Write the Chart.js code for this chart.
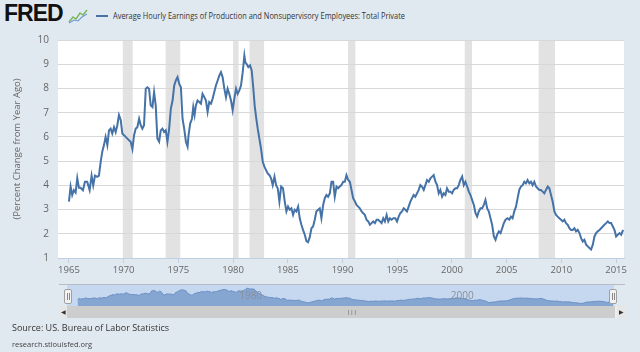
<!DOCTYPE html>
<html>
<head>
<meta charset="utf-8">
<script src="https://cdn.jsdelivr.net/npm/chart.js@4.4.1/dist/chart.umd.min.js"></script>
<style>
  html, body { margin: 0; padding: 0; }
  body { width: 640px; height: 352px; background: #e1e9f0; position: relative; overflow: hidden; font-family: "Open Sans", sans-serif; }
  #logo { position: absolute; left: 4px; top: 0px; font: 900 23px "Liberation Sans", Arial, sans-serif; letter-spacing: -1px; color: #111; }
  #icon { position: absolute; left: 68px; top: 8px; }
  #legend { position: absolute; left: 96px; top: 9px; white-space: nowrap; }
  #legend .swatch { position: absolute; left: 0; top: 6px; width: 12px; height: 2px; background: #4572a7; }
  #legendText { position: absolute; left: 17px; top: 0; font-size: 9px; color: #333; transform-origin: left top; }
  #main { position: absolute; left: 0; top: 0; }
  #navline { position: absolute; left: 59px; top: 284px; width: 566px; height: 1px; background: #b8bcc4; }
  #nav { position: absolute; left: 59px; top: 285px; }
  .handle { position: absolute; top: 289px; width: 6px; height: 13px; background: #f2f2f2; border: 1px solid #a0a0a0; border-radius: 2px; }
  .handle::before, .handle::after { content: ""; position: absolute; top: 3px; width: 1px; height: 7px; background: #888; }
  .handle::before { left: 2px; } .handle::after { left: 4px; }
  #scroll { position: absolute; left: 59px; top: 306px; width: 566px; height: 12px; background: #eeeeee; }
  #scroll .track { position: absolute; left: 8px; right: 10px; top: 0; height: 12px; background: #cdcdcd; }
  #scroll .btn { position: absolute; top: 0; width: 8px; height: 12px; background: #e6e6e6; color: #333; font-size: 6px; line-height: 12px; text-align: center; }
  #scroll .grip { position: absolute; left: 280px; top: 3px; font-size: 6px; line-height: 6px; color: #555; letter-spacing: 0; }
  #source { position: absolute; left: 12px; top: 321px; font-size: 9px; color: #333; }
  #site { position: absolute; left: 12px; top: 339px; font-size: 7.5px; color: #444; }
</style>
</head>
<body>
<div id="logo">FRED</div>
<svg id="icon" width="20" height="16" viewBox="0 0 20 16">
  <polyline points="1,14 5,9 8,11 12,5 15,7 19,2" fill="none" stroke="#7ab55c" stroke-width="1.4"/>
  <polyline points="1,15 6,12 10,13 14,9 19,6" fill="none" stroke="#6f9bd1" stroke-width="1.1"/>
</svg>
<div id="legend"><span class="swatch"></span><span id="legendText">Average Hourly Earnings of Production and Nonsupervisory Employees: Total Private</span></div>
<canvas id="main" width="640" height="282"></canvas>
<div id="navline"></div>
<canvas id="nav" width="566" height="21"></canvas>
<div class="handle" style="left:64px"></div>
<div class="handle" style="left:609px"></div>
<div id="scroll">
  <div class="btn" style="left:0">&#9664;</div>
  <div class="track"><span class="grip">|||</span></div>
  <div class="btn" style="right:0">&#9654;</div>
</div>
<div id="source">Source: US. Bureau of Labor Statistics</div>
<div id="site">research.stlouisfed.org</div>

<script>
// Percent change from year ago
const years = [
  1965.00, 1965.15, 1965.30, 1965.45, 1965.61, 1965.76, 1965.91, 1966.06, 1966.28, 1966.46, 1966.67, 1966.89,
  1967.07, 1967.22, 1967.38, 1967.59, 1967.74, 1967.90, 1968.05, 1968.20, 1968.35, 1968.51, 1968.66, 1968.81,
  1968.96, 1969.12, 1969.27, 1969.42, 1969.57, 1969.73, 1969.88, 1970.03, 1970.19, 1970.34, 1970.49, 1970.64,
  1970.80, 1970.95, 1971.10, 1971.25, 1971.41, 1971.56, 1971.71, 1971.86, 1972.02, 1972.17, 1972.32, 1972.47,
  1972.63, 1972.78, 1972.93, 1973.08, 1973.24, 1973.39, 1973.54, 1973.70, 1973.85, 1974.00, 1974.15, 1974.31,
  1974.47, 1974.62, 1974.77, 1974.92, 1975.08, 1975.23, 1975.38, 1975.53, 1975.69, 1975.84, 1975.93, 1976.08,
  1976.24, 1976.36, 1976.48, 1976.60, 1976.75, 1976.91, 1977.06, 1977.21, 1977.37, 1977.52, 1977.67, 1977.82,
  1977.98, 1978.13, 1978.28, 1978.43, 1978.59, 1978.74, 1978.89, 1979.04, 1979.20, 1979.35, 1979.50, 1979.65,
  1979.81, 1979.96, 1980.11, 1980.27, 1980.42, 1980.57, 1980.72, 1980.88, 1981.03, 1981.12, 1981.24, 1981.39,
  1981.55, 1981.70, 1981.85, 1981.97, 1982.10, 1982.25, 1982.40, 1982.55, 1982.71, 1982.86, 1983.01, 1983.16,
  1983.32, 1983.47, 1983.62, 1983.78, 1983.93, 1984.08, 1984.23, 1984.39, 1984.56, 1984.72, 1984.87, 1985.02,
  1985.17, 1985.33, 1985.48, 1985.63, 1985.78, 1985.94, 1986.09, 1986.24, 1986.39, 1986.55, 1986.70, 1986.85,
  1987.00, 1987.16, 1987.31, 1987.46, 1987.61, 1987.77, 1987.92, 1988.07, 1988.23, 1988.38, 1988.53, 1988.68,
  1988.84, 1988.99, 1989.14, 1989.29, 1989.45, 1989.60, 1989.75, 1989.90, 1990.06, 1990.21, 1990.36, 1990.52,
  1990.67, 1990.82, 1990.97, 1991.13, 1991.28, 1991.43, 1991.58, 1991.74, 1991.89, 1992.04, 1992.19, 1992.35,
  1992.50, 1992.65, 1992.80, 1992.96, 1993.11, 1993.26, 1993.42, 1993.57, 1993.72, 1993.87, 1994.03, 1994.18,
  1994.33, 1994.48, 1994.64, 1994.82, 1994.98, 1995.13, 1995.28, 1995.43, 1995.59, 1995.74, 1995.89, 1996.04,
  1996.20, 1996.35, 1996.50, 1996.65, 1996.81, 1996.96, 1997.11, 1997.26, 1997.42, 1997.57, 1997.72, 1997.88,
  1998.03, 1998.18, 1998.33, 1998.49, 1998.64, 1998.79, 1998.94, 1999.10, 1999.25, 1999.40, 1999.55, 1999.71,
  1999.86, 2000.01, 2000.16, 2000.32, 2000.47, 2000.62, 2000.77, 2000.93, 2001.08, 2001.23, 2001.39, 2001.54,
  2001.69, 2001.84, 2002.00, 2002.15, 2002.30, 2002.45, 2002.61, 2002.76, 2002.91, 2003.06, 2003.22, 2003.37,
  2003.52, 2003.67, 2003.83, 2003.98, 2004.13, 2004.29, 2004.44, 2004.59, 2004.74, 2004.90, 2005.08, 2005.24,
  2005.39, 2005.54, 2005.69, 2005.85, 2006.00, 2006.15, 2006.30, 2006.46, 2006.61, 2006.76, 2006.91, 2007.07,
  2007.22, 2007.37, 2007.52, 2007.68, 2007.83, 2007.98, 2008.13, 2008.29, 2008.44, 2008.59, 2008.75, 2008.90,
  2009.05, 2009.20, 2009.36, 2009.51, 2009.66, 2009.81, 2009.97, 2010.12, 2010.27, 2010.42, 2010.58, 2010.73,
  2010.88, 2011.03, 2011.19, 2011.34, 2011.49, 2011.65, 2011.80, 2011.95, 2012.10, 2012.26, 2012.41, 2012.56,
  2012.71, 2012.87, 2013.02, 2013.17, 2013.32, 2013.48, 2013.63, 2013.78, 2013.93, 2014.09, 2014.24, 2014.39,
  2014.54, 2014.70, 2014.85, 2015.00, 2015.15, 2015.31, 2015.46, 2015.64
];
const earnings = [
  3.33, 3.95, 3.60, 3.80, 3.70, 4.30, 3.90, 3.90, 3.80, 4.15, 4.15, 3.80,
  4.40, 4.00, 4.40, 4.35, 4.40, 4.97, 5.40, 5.66, 6.00, 5.66, 6.27, 6.34,
  6.14, 6.40, 6.20, 6.48, 6.90, 6.70, 6.14, 6.07, 6.00, 5.93, 5.86, 5.80,
  5.50, 6.07, 6.34, 6.40, 6.75, 6.48, 6.34, 6.48, 7.99, 8.05, 7.99, 7.30,
  7.23, 7.85, 7.30, 5.93, 5.80, 6.27, 6.34, 6.20, 6.27, 5.80, 6.30, 7.16,
  7.50, 8.12, 8.33, 8.47, 8.19, 8.05, 6.75, 6.34, 5.80, 5.60, 6.07, 6.55,
  6.75, 7.23, 6.90, 7.30, 7.50, 7.44, 7.37, 7.78, 7.64, 7.50, 7.03, 7.44,
  7.37, 7.58, 7.85, 8.12, 8.33, 8.53, 8.67, 8.47, 7.99, 7.64, 7.99, 7.78,
  7.50, 7.10, 7.58, 7.99, 7.78, 7.92, 8.12, 8.67, 9.36, 9.08, 9.01, 8.88,
  8.95, 8.74, 7.99, 7.30, 6.82, 6.34, 5.93, 5.52, 4.97, 4.77, 4.63, 4.49,
  4.42, 4.29, 4.01, 4.36, 4.01, 3.88, 3.33, 3.95, 3.88, 3.33, 2.92, 3.12,
  2.99, 3.05, 2.78, 2.99, 2.92, 3.12, 2.64, 2.37, 2.16, 1.96, 1.70, 1.65,
  1.85, 2.23, 2.30, 2.58, 2.92, 2.99, 3.05, 2.64, 3.19, 3.47, 3.60, 3.53,
  3.67, 4.15, 4.15, 3.53, 3.95, 3.88, 3.95, 4.01, 4.15, 4.15, 4.42, 4.22,
  4.15, 3.81, 3.47, 3.33, 3.19, 3.12, 3.05, 2.92, 2.85, 2.78, 2.58, 2.51,
  2.37, 2.44, 2.51, 2.44, 2.58, 2.58, 2.51, 2.44, 2.64, 2.51, 2.78, 2.51,
  2.64, 2.58, 2.64, 2.64, 2.51, 2.71, 2.85, 2.92, 3.05, 2.99, 2.92, 3.12,
  3.33, 3.47, 3.60, 3.53, 3.67, 3.81, 4.01, 3.95, 3.81, 4.01, 4.22, 4.15,
  4.29, 4.36, 4.42, 4.15, 4.01, 3.67, 3.81, 3.53, 3.67, 3.60, 3.88, 3.74,
  3.74, 3.67, 3.81, 3.88, 3.88, 4.01, 4.22, 4.36, 4.01, 4.15, 3.95, 3.74,
  3.60, 3.40, 3.19, 2.85, 2.71, 2.92, 3.05, 3.05, 3.19, 3.40, 3.05, 2.92,
  2.64, 2.37, 1.89, 1.75, 1.96, 2.10, 2.03, 2.23, 2.44, 2.58, 2.64, 2.58,
  2.71, 2.64, 2.92, 3.12, 3.47, 3.81, 3.95, 4.01, 4.15, 4.08, 4.22, 4.08,
  4.15, 4.01, 4.15, 3.95, 3.88, 3.81, 3.81, 3.74, 3.67, 3.81, 3.95, 3.88,
  3.60, 3.33, 2.92, 2.78, 2.71, 2.64, 2.58, 2.51, 2.58, 2.44, 2.37, 2.23,
  2.16, 2.16, 2.23, 2.10, 2.16, 2.03, 1.82, 1.68, 1.75, 1.55, 1.48, 1.41,
  1.35, 1.55, 1.89, 2.03, 2.10, 2.16, 2.23, 2.30, 2.37, 2.44, 2.51, 2.44,
  2.44, 2.30, 2.16, 1.89, 1.96, 2.03, 1.96, 2.16
];
const tickYears = [1965, 1970, 1975, 1980, 1985, 1990, 1995, 2000, 2005, 2010, 2015];
const yTicks = [1, 2, 3, 4, 5, 6, 7, 8, 9, 10];
const navLabels = [1980, 2000];
// NBER recessions (start, end as decimal years)
const recessionStarts = [1969.92, 1973.83, 1980.00, 1981.50, 1990.50, 2001.17, 2007.92];
const recessionEnds   = [1970.83, 1975.17, 1980.50, 1982.83, 1991.17, 2001.83, 2009.42];

const xMin = 1964.0;
const xMax = 2015.72;
const lineColor = '#4572a7';

const points = years.map((yr, i) => ({ x: yr, y: earnings[i] }));

// squeeze the legend text to the narrow face used in the picture
const legendText = document.getElementById('legendText');
legendText.style.transform = 'scaleX(' + (292 / legendText.offsetWidth) + ')';

const plotBackground = {
  id: 'plotBackground',
  beforeDraw(chart) {
    const { ctx, chartArea: a, scales: { x } } = chart;
    ctx.save();
    ctx.fillStyle = '#ffffff';
    ctx.fillRect(a.left, a.top, a.width, a.height);
    ctx.fillStyle = '#e2e2e2';
    recessionStarts.forEach((s, i) => {
      const x0 = x.getPixelForValue(s);
      const x1 = x.getPixelForValue(recessionEnds[i]);
      ctx.fillRect(x0, a.top, x1 - x0, a.height);
    });
    ctx.restore();
  }
};

new Chart(document.getElementById('main'), {
  type: 'line',
  data: {
    datasets: [{
      data: points,
      borderColor: lineColor,
      borderWidth: 2,
      pointRadius: 0,
      tension: 0,
      fill: false
    }]
  },
  options: {
    responsive: false,
    animation: false,
    devicePixelRatio: 1,
    layout: { padding: { top: 40, right: 16, left: 0, bottom: 0 } },
    plugins: { legend: { display: false }, tooltip: { enabled: false } },
    scales: {
      x: {
        type: 'linear',
        min: xMin,
        max: xMax,
        afterBuildTicks: scale => { scale.ticks = tickYears.map(v => ({ value: v })); },
        afterFit: scale => { scale.height = 24; },
        ticks: {
          color: '#666',
          font: { family: 'Open Sans', size: 9.5 },
          padding: 2,
          maxRotation: 0,
          autoSkip: false,
          callback: v => String(v)
        },
        grid: { drawOnChartArea: false, drawTicks: true, tickLength: 5, color: '#c0d0e0' },
        border: { display: true, color: '#c0d0e0' }
      },
      y: {
        min: 1,
        max: 10,
        afterBuildTicks: scale => { scale.ticks = yTicks.map(v => ({ value: v })); },
        afterFit: scale => { scale.width = 58; },
        ticks: {
          color: '#666',
          font: { family: 'Open Sans', size: 10 },
          padding: 9
        },
        grid: { color: '#d8d8d8', drawTicks: false },
        border: { display: false },
        title: {
          display: true,
          text: '(Percent Change from Year Ago)',
          color: '#666',
          font: { family: 'Open Sans', size: 9.5 },
          padding: { top: 12, bottom: 0 }
        }
      }
    }
  },
  plugins: [plotBackground]
});

// navigator strip under the chart
const navDecor = {
  id: 'navDecor',
  beforeDraw(chart) {
    const { ctx, chartArea: a } = chart;
    ctx.save();
    ctx.fillStyle = '#c6d8ef';
    ctx.fillRect(a.left, a.top, a.width, a.height);
    ctx.restore();
  },
  afterDatasetsDraw(chart) {
    const { ctx, chartArea: a, scales: { x } } = chart;
    ctx.save();
    ctx.fillStyle = '#8a8f99';
    ctx.font = '10px "Open Sans"';
    ctx.textBaseline = 'middle';
    navLabels.forEach(yr => {
      ctx.fillText(String(yr), x.getPixelForValue(yr) + 3, a.top + a.height / 2 + 1);
    });
    ctx.restore();
  }
};

new Chart(document.getElementById('nav'), {
  type: 'line',
  data: {
    datasets: [{
      data: points,
      borderColor: '#6b8fc4',
      backgroundColor: '#86a6d2',
      borderWidth: 1,
      pointRadius: 0,
      tension: 0,
      fill: 'origin'
    }]
  },
  options: {
    responsive: false,
    animation: false,
    devicePixelRatio: 1,
    layout: { padding: { top: 0, right: 11, left: 8, bottom: 0 } },
    plugins: { legend: { display: false }, tooltip: { enabled: false } },
    scales: {
      x: { type: 'linear', display: false, min: xMin, max: xMax },
      y: { display: false, min: 0, max: 11 }
    }
  },
  plugins: [navDecor]
});
</script>
</body>
</html>
